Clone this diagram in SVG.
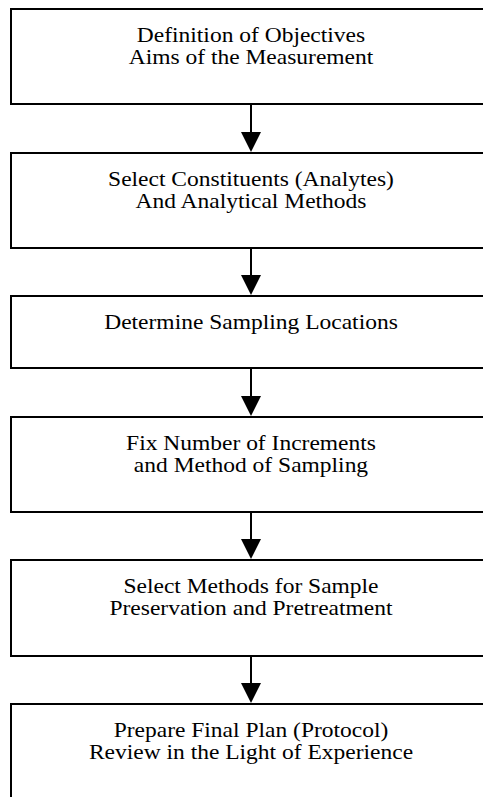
<svg xmlns="http://www.w3.org/2000/svg" width="483" height="797" viewBox="0 0 483 797">
<style>
.box{fill:#fff;stroke:#000;stroke-width:2}
.t{font-family:"Liberation Serif","Times New Roman",serif;font-size:21.5px;fill:#000;text-anchor:middle}
.c line{stroke:#000;stroke-width:2}
.c polygon{fill:#000}
</style>
<rect width="483" height="797" fill="#fff"/>
<g id="n1"><rect class="box" x="11" y="9" width="480" height="95"/>
<text class="t" x="251" y="42" transform="matrix(1.093 0 0 1 -23.343 0)">Definition of Objectives</text>
<text class="t" x="251" y="64" transform="matrix(1.093 0 0 1 -23.343 0)">Aims of the Measurement</text></g>
<g id="n2"><rect class="box" x="11" y="153" width="480" height="95"/>
<text class="t" x="251" y="186" transform="matrix(1.093 0 0 1 -23.343 0)">Select Constituents (Analytes)</text>
<text class="t" x="251" y="208" transform="matrix(1.093 0 0 1 -23.343 0)">And Analytical Methods</text></g>
<g id="n3"><rect class="box" x="11" y="296" width="480" height="72"/>
<text class="t" x="251" y="329" transform="matrix(1.093 0 0 1 -23.343 0)">Determine Sampling Locations</text></g>
<g id="n4"><rect class="box" x="11" y="417" width="480" height="95"/>
<text class="t" x="251" y="450" transform="matrix(1.093 0 0 1 -23.343 0)">Fix Number of Increments</text>
<text class="t" x="251" y="472" transform="matrix(1.093 0 0 1 -23.343 0)">and Method of Sampling</text></g>
<g id="n5"><rect class="box" x="11" y="560" width="480" height="96"/>
<text class="t" x="251" y="593" transform="matrix(1.093 0 0 1 -23.343 0)">Select Methods for Sample</text>
<text class="t" x="251" y="615" transform="matrix(1.093 0 0 1 -23.343 0)">Preservation and Pretreatment</text></g>
<g id="n6"><rect class="box" x="11" y="704" width="480" height="100"/>
<text class="t" x="251" y="737" transform="matrix(1.093 0 0 1 -23.343 0)">Prepare Final Plan (Protocol)</text>
<text class="t" x="251" y="759" transform="matrix(1.093 0 0 1 -23.343 0)">Review in the Light of Experience</text></g>
<g id="connectors" class="c">
<line x1="251" y1="104" x2="251" y2="133"/><polygon points="241,132 261,132 251,152"/>
<line x1="251" y1="248" x2="251" y2="276"/><polygon points="241,275 261,275 251,295"/>
<line x1="251" y1="368" x2="251" y2="397"/><polygon points="241,396 261,396 251,416"/>
<line x1="251" y1="512" x2="251" y2="540"/><polygon points="241,539 261,539 251,559"/>
<line x1="251" y1="656" x2="251" y2="684"/><polygon points="241,683 261,683 251,703"/>
</g>
</svg>
